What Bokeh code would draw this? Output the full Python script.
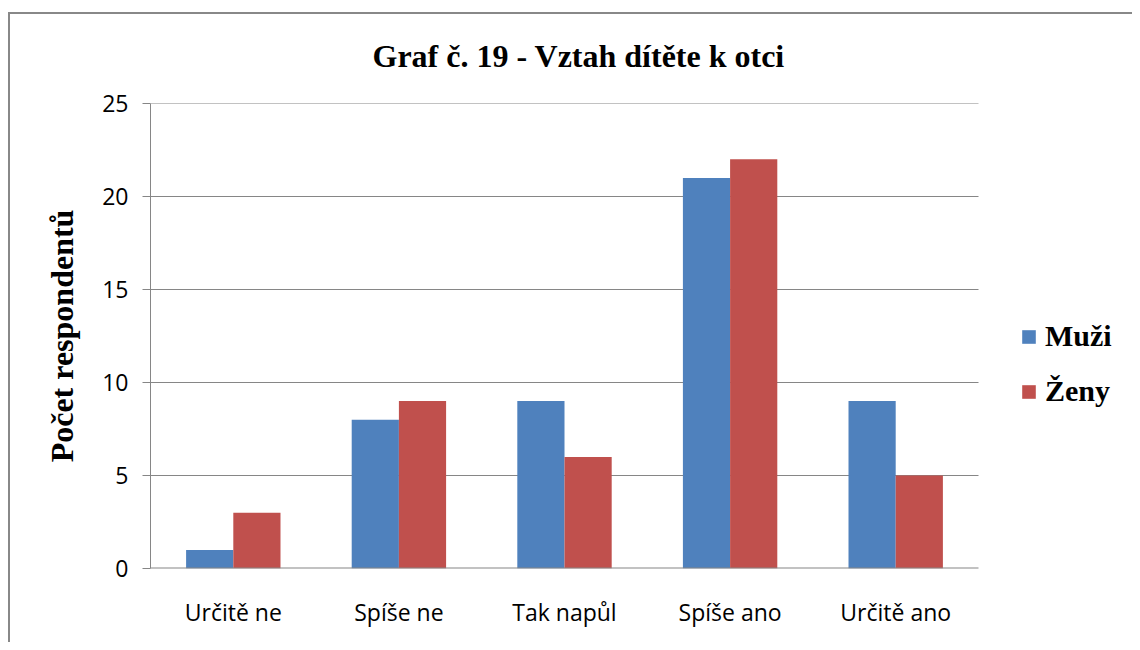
from bokeh.plotting import figure
from bokeh.models import ColumnDataSource, Legend, LegendItem, Range1d, FixedTicker
from bokeh.embed import file_html
from bokeh.resources import INLINE

categories = ["Určitě ne", "Spíše ne", "Tak napůl", "Spíše ano", "Určitě ano"]
muzi = [1, 8, 9, 21, 9]
zeny = [3, 9, 6, 22, 5]
series_names = ["Muži", "Ženy"]
colors = ["#4F81BD", "#C0504D"]
y_ticks = [0, 5, 10, 15, 20, 25]

n = len(categories)
centers = [i + 0.5 for i in range(n)]
bw = 0.285
src = ColumnDataSource(dict(cat=categories, xm=[c - bw / 2 for c in centers],
                            xz=[c + bw / 2 for c in centers], muzi=muzi, zeny=zeny))

W, H = 1132, 642
FRAME_W = W - 150
p = figure(width=W, height=H, x_range=Range1d(0, n * FRAME_W / 828.0), y_range=Range1d(0, 25),
           output_backend="svg", toolbar_location=None,
           min_border_left=150, min_border_right=0, min_border_top=103, min_border_bottom=74)
p.title.text = "Graf č. 19 - Vztah dítěte k otci"
p.title.align = "left"
p.title.offset = 222
p.title.text_font = "Liberation Serif"
p.title.text_font_size = "32px"
p.title.text_font_style = "bold"
p.title.text_color = "black"
p.title.standoff = 60

p.border_fill_color = None
p.background_fill_color = "white"
p.styles = {
    "background": "linear-gradient(#888888, #888888) 8px 12px / 2px 100% no-repeat, "
                  "linear-gradient(#888888, #888888) 8px 12px / 100% 2px no-repeat, white",
}

# gridlines limited to the category area
grid_y = y_ticks[1:]
p.segment(x0=[0] * len(grid_y), x1=[n] * len(grid_y), y0=grid_y, y1=grid_y,
          line_color="#868686", line_width=1)

r1 = p.vbar(x="xm", top="muzi", width=bw, source=src, fill_color=colors[0], line_color=None)
r2 = p.vbar(x="xz", top="zeny", width=bw, source=src, fill_color=colors[1], line_color=None)

# category axis baseline
p.segment(x0=[0], x1=[n], y0=[0], y1=[0], line_color="#868686", line_width=2)

p.outline_line_color = None
p.xgrid.grid_line_color = None
p.ygrid.grid_line_color = None
p.yaxis.ticker = FixedTicker(ticks=y_ticks)
p.yaxis.minor_tick_line_color = None
p.yaxis.major_tick_in = 0
p.yaxis.major_tick_out = 8
p.yaxis.major_tick_line_color = "#868686"
p.yaxis.axis_line_color = "#868686"
p.yaxis.major_label_standoff = 14
p.yaxis.major_label_text_font = "Open Sans"
p.yaxis.major_label_text_font_size = "23px"
p.yaxis.major_label_text_color = "black"
p.yaxis.axis_label = "Počet respondentů"
p.yaxis.axis_label_text_font = "Liberation Serif"
p.yaxis.axis_label_text_font_size = "32px"
p.yaxis.axis_label_text_font_style = "bold"
p.yaxis.axis_label_text_color = "black"
p.yaxis.axis_label_standoff = 19

p.xaxis.ticker = FixedTicker(ticks=centers)
p.xaxis.major_label_overrides = {c: lab for c, lab in zip(centers, categories)}
p.xaxis.axis_line_color = None
p.xaxis.major_tick_line_color = None
p.xaxis.minor_tick_line_color = None
p.xaxis.major_label_standoff = 21
p.xaxis.major_label_text_font = "Open Sans"
p.xaxis.major_label_text_font_size = "23px"
p.xaxis.major_label_text_color = "black"

legend = Legend(items=[LegendItem(label=series_names[0], renderers=[r1]),
                       LegendItem(label=series_names[1], renderers=[r2])],
                location=(870, 160), padding=0, margin=0, border_line_color=None,
                background_fill_alpha=0, glyph_width=17, glyph_height=17,
                label_height=32, spacing=21, label_standoff=8,
                label_text_font="Liberation Serif", label_text_font_size="30px",
                label_text_font_style="bold", label_text_color="black")
p.add_layout(legend, "center")

open("out.html", "w").write(file_html(p, INLINE))
